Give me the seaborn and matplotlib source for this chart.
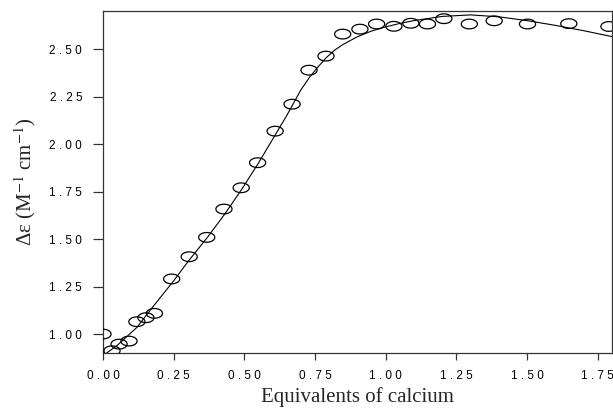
import numpy as np
import pandas as pd
import seaborn as sns
import matplotlib.pyplot as plt
from matplotlib.path import Path
from matplotlib.ticker import FuncFormatter

# measured points (open circles)
eq_ca = [0.00, 0.032, 0.057, 0.092, 0.120, 0.152, 0.182, 0.243, 0.305, 0.367,
         0.428, 0.489, 0.547, 0.609, 0.669, 0.729, 0.789, 0.848, 0.909, 0.968,
         1.029, 1.089, 1.148, 1.206, 1.296, 1.384, 1.502, 1.648, 1.790]
delta_eps = [1.000, 0.912, 0.947, 0.963, 1.065, 1.086, 1.109, 1.290, 1.407, 1.509,
             1.658, 1.770, 1.902, 2.068, 2.210, 2.389, 2.463, 2.579, 2.605, 2.632,
             2.620, 2.636, 2.632, 2.660, 2.632, 2.649, 2.632, 2.634, 2.619]

# fitted curve
fit_x = [0.013, 0.05, 0.12, 0.18, 0.25, 0.30, 0.37, 0.43, 0.49, 0.55, 0.61, 0.65,
         0.70, 0.73, 0.76, 0.79, 0.82, 0.85, 0.90, 0.95, 1.00, 1.05, 1.10, 1.20,
         1.30, 1.40, 1.50, 1.60, 1.70, 1.80]
fit_y = [0.900, 0.940, 1.035, 1.150, 1.280, 1.380, 1.510, 1.630, 1.760, 1.900,
         2.050, 2.150, 2.285, 2.350, 2.405, 2.455, 2.495, 2.525, 2.565, 2.595,
         2.617, 2.635, 2.650, 2.672, 2.680, 2.670, 2.650, 2.625, 2.597, 2.566]

pts = pd.DataFrame({"eq": eq_ca, "de": delta_eps})
fit = pd.DataFrame({"eq": fit_x, "de": fit_y})

sns.set_style("ticks")
plt.rcParams["mathtext.fontset"] = "stix"

# flattened circle marker
t = np.linspace(0, 2 * np.pi, 60)
ellipse = Path(np.column_stack([0.5 * np.cos(t), 0.3 * np.sin(t)]), closed=True)

fig = plt.figure(figsize=(6.13, 4.11), dpi=100)
ax = fig.add_axes([0.168, 0.141, 0.830, 0.832])

sns.lineplot(data=fit, x="eq", y="de", color="black", linewidth=0.8, ax=ax)
sns.scatterplot(data=pts, x="eq", y="de", marker=ellipse, s=135,
                facecolor="none", edgecolor="black", linewidth=0.9, ax=ax, zorder=3)

ax.set_xlim(0, 1.80)
ax.set_ylim(0.90, 2.70)
ax.set_xticks([0, 0.25, 0.5, 0.75, 1.0, 1.25, 1.5, 1.75])
ax.set_yticks([1.0, 1.25, 1.5, 1.75, 2.0, 2.25, 2.5])

# letter-spaced tick labels like the original
spaced = FuncFormatter(lambda v, p: " ".join("%.2f" % v))
ax.xaxis.set_major_formatter(spaced)
ax.yaxis.set_major_formatter(spaced)

for s in ax.spines.values():
    s.set_linewidth(0.9)
    s.set_color("#333333")
ax.tick_params(axis="both", width=0.9, color="#333333", labelsize=8.5, labelcolor="black")
ax.tick_params(axis="x", length=5, pad=7)
ax.tick_params(axis="y", length=7, pad=8)
for lab in ax.get_xticklabels() + ax.get_yticklabels():
    lab.set_family("Liberation Sans")

ax.set_xlabel("Equivalents of calcium", family="Liberation Serif", fontsize=15, labelpad=4)
ax.set_ylabel("\u0394\u03b5 (M$^{-1}$ cm$^{-1}$)", family="Liberation Serif",
              fontsize=15, labelpad=8)

fig.savefig("out.png", dpi=100)
